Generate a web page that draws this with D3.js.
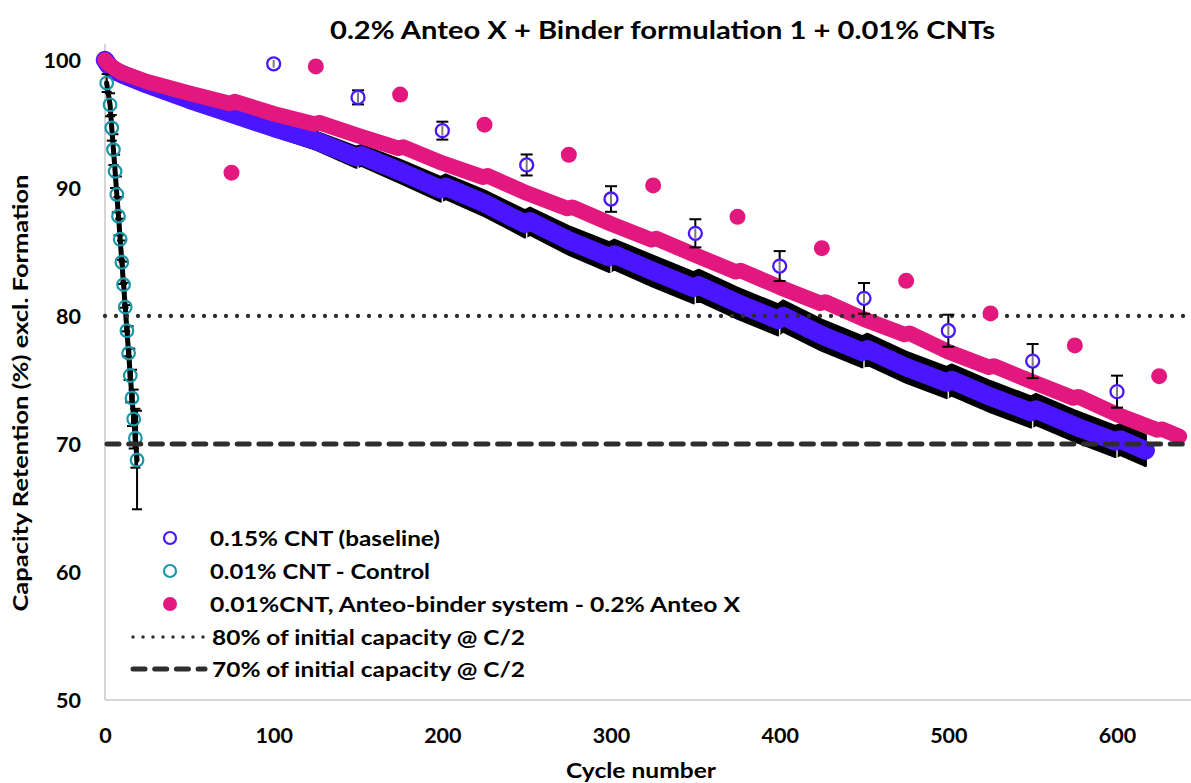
<!DOCTYPE html>
<html>
<head>
<meta charset="utf-8">
<script src="https://cdn.jsdelivr.net/npm/d3@7/dist/d3.min.js"></script>
<style>
  html, body { margin: 0; padding: 0; background: #ffffff; }
  svg { display: block; }
  text { font-family: Lato, "Open Sans", sans-serif; font-weight: bold; fill: #000; }
</style>
</head>
<body>
<svg id="chart" width="1191" height="783"></svg>
<script>
// ---------------- DATA ----------------
const titleText = "0.2% Anteo X + Binder formulation 1 + 0.01% CNTs";
const xAxisTitle = "Cycle number";
const yAxisTitle = "Capacity Retention (%) excl. Formation";

const xTicks = [0, 100, 200, 300, 400, 500, 600];
const yTicks = [50, 60, 70, 80, 90, 100];

// 0.15% CNT (baseline) – dense series (every cycle in the original), sampled
const baseCycles = [0,2,5,10,25,50,75,100,125,149,152,175,199,202,225,249,252,275,299,302,325,349,352,375,399,402,425,449,452,475,499,502,525,549,552,575,599,602,617];
const baseValues = [100.0,99.6,99.2,98.9,98.1,96.9,95.8,94.7,93.7,92.4,92.55,91.3,89.9,90.1,88.8,87.2,87.4,85.9,84.6,84.8,83.5,82.2,82.4,81.0,79.7,80.0,78.5,77.2,77.4,76.0,74.8,75.0,73.7,72.5,72.7,71.4,70.2,70.35,69.5];
const baseErr    = [0.2,0.2,0.25,0.3,0.35,0.4,0.5,0.6,0.7,0.8,0.8,0.9,0.95,0.95,1.0,1.05,1.05,1.1,1.15,1.15,1.2,1.2,1.2,1.2,1.2,1.2,1.2,1.2,1.2,1.2,1.2,1.2,1.2,1.2,1.2,1.2,1.2,1.2,1.2];

// 0.01%CNT, Anteo-binder system - 0.2% Anteo X – dense series, sampled
const anteoCycles = [0,2,5,10,25,50,74,77,100,124,127,150,174,177,200,224,227,250,274,277,300,324,327,350,374,377,400,424,427,450,474,477,500,524,527,550,574,577,600,624,627,637];
const anteoValues = [100.0,99.7,99.4,99.0,98.3,97.4,96.6,96.75,95.8,95.0,95.1,94.1,93.1,93.2,91.95,90.85,90.95,89.6,88.4,88.5,87.2,85.95,86.05,84.75,83.45,83.55,82.25,81.0,81.1,79.75,78.55,78.65,77.2,76.0,76.1,74.85,73.6,73.7,72.3,71.1,71.15,70.6];

// 0.01% CNT - Control
const controlCycles = [1,3,4,5,6,7,8,9,10,11,12,13,14,15,16,17,18,19];
const controlValues = [98.2,96.5,94.7,93.0,91.3,89.5,87.8,86.0,84.2,82.45,80.7,78.85,77.1,75.35,73.6,71.95,70.45,68.75];
const controlErr    = [0.7,0.9,1.0,1.2,1.3,1.4,1.5,1.6,1.7,1.8,1.9,2.0,2.1,2.1,2.2,2.3,2.3,3.85];

// isolated markers
const baseMarkCycles = [100,150,200,250,300,350,400,450,500,550,600];
const baseMarkValues = [99.7,97.08,94.48,91.8,89.14,86.46,83.9,81.38,78.85,76.48,74.09];
const baseMarkErr    = [0.3,0.55,0.7,0.82,1.0,1.1,1.17,1.2,1.25,1.33,1.25];

const anteoMarkCycles = [75,125,175,225,275,325,375,425,475,525,575,625];
const anteoMarkValues = [91.2,99.5,97.3,94.95,92.6,90.2,87.75,85.3,82.75,80.2,77.7,75.3];

const refLevels = [80, 70];

const legendLabels = [
  "0.15% CNT (baseline)",
  "0.01% CNT - Control",
  "0.01%CNT, Anteo-binder system - 0.2% Anteo X",
  "80% of initial capacity @ C/2",
  "70% of initial capacity @ C/2"
];

// ---------------- STYLE ----------------
const BLUE = "#4a16ff", PINK = "#e2187f", TEAL = "#1a97a6", REF = "#2e2e2e", AXIS = "#d6d6d6";
const FS = 21.5;

const svg = d3.select("#chart");
const x = d3.scaleLinear().domain([0, 600]).range([105, 1117]);
const y = d3.scaleLinear().domain([50, 100]).range([700, 60]);
const X0 = 105, X1 = 1191;

// axes lines
svg.append("line").attr("x1", X0).attr("x2", X0).attr("y1", 44).attr("y2", 700)
  .attr("stroke", AXIS).attr("stroke-width", 2);
svg.append("line").attr("x1", X0).attr("x2", X1).attr("y1", 700).attr("y2", 700)
  .attr("stroke", AXIS).attr("stroke-width", 2);

// tick labels via d3 axes (no tick lines)
const yAxis = svg.append("g").attr("transform", `translate(81,0)`)
  .call(d3.axisLeft(y).tickValues(yTicks).tickSize(0).tickPadding(0).tickFormat(d3.format("d")));
yAxis.select(".domain").remove();
yAxis.selectAll("text").attr("font-size", FS).attr("font-family", "Lato").attr("font-weight", "bold")
  .attr("fill", "#000").attr("dy", "0.36em");

const xAxis = svg.append("g").attr("transform", `translate(0,743)`)
  .call(d3.axisBottom(x).tickValues(xTicks).tickSize(0).tickPadding(0).tickFormat(d3.format("d")));
xAxis.select(".domain").remove();
xAxis.selectAll("text").attr("font-size", FS).attr("font-family", "Lato").attr("font-weight", "bold")
  .attr("fill", "#000").attr("dy", "0");

// titles
svg.append("text").attr("x", 330).attr("y", 39).attr("font-size", 24)
  .attr("textLength", 665).attr("lengthAdjust", "spacingAndGlyphs").text(titleText);
svg.append("text").attr("x", 641).attr("y", 778).attr("font-size", FS).attr("text-anchor", "middle")
  .attr("textLength", 150).attr("lengthAdjust", "spacingAndGlyphs").text(xAxisTitle);
svg.append("text").attr("transform", "translate(28,393) rotate(-90)").attr("font-size", FS)
  .attr("text-anchor", "middle").attr("textLength", 437).attr("lengthAdjust", "spacingAndGlyphs").text(yAxisTitle);

// ---- baseline dense band: error bars (black) + markers (blue)
const base = baseCycles.map((c, i) => ({c, v: baseValues[i], e: baseErr[i]}));
const errArea = d3.area().x(d => x(d.c)).y0(d => y(d.v - d.e)).y1(d => y(d.v + d.e)).curve(d3.curveLinear);
svg.append("path").datum(base).attr("d", errArea).attr("fill", "#000").attr("stroke", "#000")
  .attr("stroke-width", 2.5).attr("stroke-linejoin", "round");
// light centre lines of the error bars at the check-up cycles
base.forEach((d, i) => {
  if (d.c % 50 === 49 && d.c >= 149) {
    svg.append("line").attr("x1", x(d.c + 1)).attr("x2", x(d.c + 1))
      .attr("y1", y(d.v)).attr("y2", y(d.v - d.e) + 1)
      .attr("stroke", "#e6e6e6").attr("stroke-width", 1.5);
  }
});
const line = d3.line().x(d => x(d.c)).y(d => y(d.v));
svg.append("path").datum(base).attr("d", line).attr("fill", "none").attr("stroke", BLUE)
  .attr("stroke-width", 18.5).attr("stroke-linecap", "round").attr("stroke-linejoin", "round");

// ---- control series
const ctrl = controlCycles.map((c, i) => ({c, v: controlValues[i], e: controlErr[i]}));
svg.append("path").datum(ctrl).attr("d", line).attr("fill", "none").attr("stroke", "#000")
  .attr("stroke-width", 5).attr("stroke-linecap", "round");
const cg = svg.append("g");
ctrl.forEach(d => {
  cg.append("line").attr("x1", x(d.c)).attr("x2", x(d.c)).attr("y1", y(d.v - d.e)).attr("y2", y(d.v + d.e))
    .attr("stroke", "#000").attr("stroke-width", 2);
  [d.v - d.e, d.v + d.e].forEach(v => cg.append("line").attr("x1", x(d.c) - 5).attr("x2", x(d.c) + 5)
    .attr("y1", y(v)).attr("y2", y(v)).attr("stroke", "#000").attr("stroke-width", 2));
});

// ---- anteo dense band
const anteo = anteoCycles.map((c, i) => ({c, v: anteoValues[i]}));
svg.append("path").datum(anteo).attr("d", line).attr("fill", "none").attr("stroke", PINK)
  .attr("stroke-width", 15.5).attr("stroke-linecap", "round").attr("stroke-linejoin", "round");

// control markers on top
const cm = svg.append("g");
cm.selectAll("circle").data(ctrl).join("circle").attr("cx", d => x(d.c)).attr("cy", d => y(d.v))
  .attr("r", 6.3).attr("fill", "none").attr("stroke", TEAL).attr("stroke-width", 2.2);

// ---- reference lines
svg.append("line").attr("x1", X0).attr("x2", X1).attr("y1", y(refLevels[0])).attr("y2", y(refLevels[0]))
  .attr("stroke", REF).attr("stroke-width", 4.3).attr("stroke-linecap", "round").attr("stroke-dasharray", "0 11");
svg.append("line").attr("x1", X0 + 2).attr("x2", X1).attr("y1", y(refLevels[1])).attr("y2", y(refLevels[1]))
  .attr("stroke", REF).attr("stroke-width", 5).attr("stroke-linecap", "round").attr("stroke-dasharray", "12 9.7");

// ---- isolated markers
const bm = baseMarkCycles.map((c, i) => ({c, v: baseMarkValues[i], e: baseMarkErr[i]}));
const bg = svg.append("g");
bm.forEach(d => {
  const cx = x(d.c);
  bg.append("line").attr("x1", cx).attr("x2", cx).attr("y1", y(d.v - d.e)).attr("y2", y(d.v + d.e))
    .attr("stroke", "#000").attr("stroke-width", 2);
  [d.v - d.e, d.v + d.e].forEach(v => bg.append("line").attr("x1", cx - 6).attr("x2", cx + 6)
    .attr("y1", y(v)).attr("y2", y(v)).attr("stroke", "#000").attr("stroke-width", 2));
  bg.append("circle").attr("cx", cx).attr("cy", y(d.v)).attr("r", 6.5).attr("fill", "#fff")
    .attr("stroke", BLUE).attr("stroke-width", 2.3);
  bg.append("line").attr("x1", cx).attr("x2", cx)
    .attr("y1", Math.max(y(d.v + d.e), y(d.v) - 5)).attr("y2", Math.min(y(d.v - d.e), y(d.v) + 5))
    .attr("stroke", "#7a7a7a").attr("stroke-width", 2);
});
svg.append("g").selectAll("circle")
  .data(anteoMarkCycles.map((c, i) => ({c, v: anteoMarkValues[i]})))
  .join("circle").attr("cx", d => x(d.c)).attr("cy", d => y(d.v)).attr("r", 8).attr("fill", PINK);

// ---- legend
const lg = svg.append("g");
const rows = [538, 571, 604, 637, 669];
const widths = [230, 220, 530, 313, 313];
lg.append("circle").attr("cx", 170).attr("cy", rows[0]).attr("r", 6).attr("fill", "none").attr("stroke", BLUE).attr("stroke-width", 2.2);
lg.append("circle").attr("cx", 170).attr("cy", rows[1]).attr("r", 6).attr("fill", "none").attr("stroke", TEAL).attr("stroke-width", 2.2);
lg.append("circle").attr("cx", 170).attr("cy", rows[2]).attr("r", 7).attr("fill", PINK);
lg.append("line").attr("x1", 133).attr("x2", 204).attr("y1", rows[3]).attr("y2", rows[3])
  .attr("stroke", REF).attr("stroke-width", 3.5).attr("stroke-linecap", "round").attr("stroke-dasharray", "0 10");
lg.append("line").attr("x1", 133).attr("x2", 205).attr("y1", rows[4]).attr("y2", rows[4])
  .attr("stroke", REF).attr("stroke-width", 5).attr("stroke-linecap", "round").attr("stroke-dasharray", "12 9.7");
legendLabels.forEach((t, i) => {
  lg.append("text").attr("x", i < 3 ? 210 : 212).attr("y", rows[i] + 7.5).attr("font-size", FS)
    .attr("textLength", widths[i]).attr("lengthAdjust", "spacingAndGlyphs").text(t);
});
</script>
</body>
</html>
